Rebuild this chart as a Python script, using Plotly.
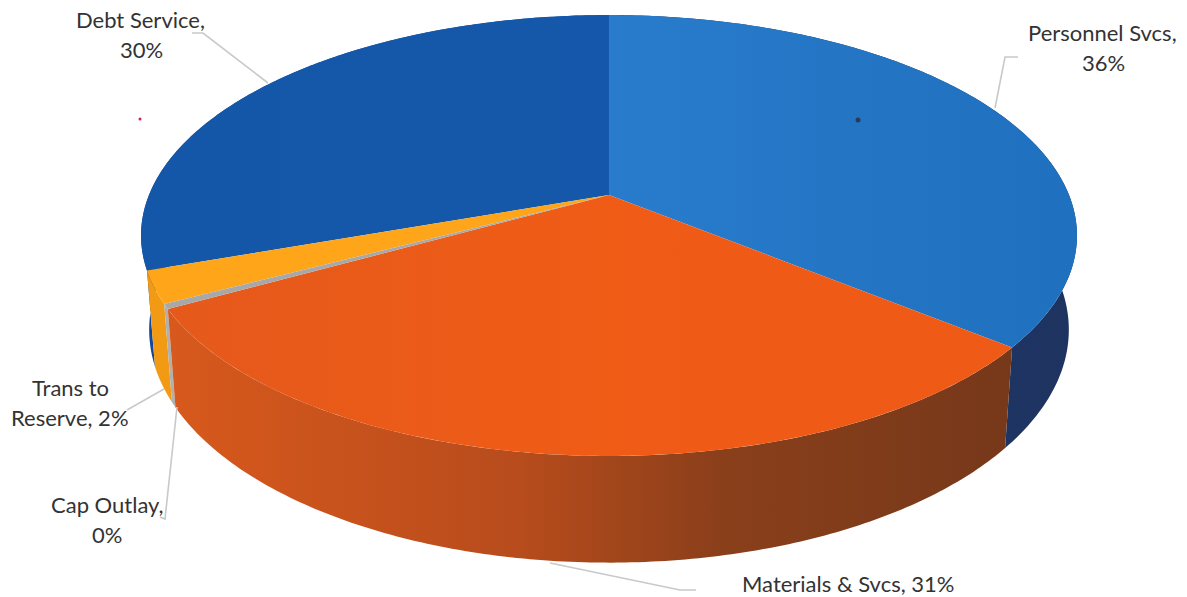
import numpy as np
import plotly.graph_objects as go

# ---- data ----
categories = ["Personnel Svcs", "Materials & Svcs", "Cap Outlay", "Trans to Reserve", "Debt Service"]
values = [35.9, 31.0, 0.35, 2.35, 30.4]

# ---- styles ----
top_colors = [
    [[0, "#3388DA"], [1, "#1F70BE"]],
    [[0, "#E4591C"], [0.5, "#F05C16"], [1, "#EE5A17"]],
    [[0, "#A8A8A8"], [1, "#A8A8A8"]],
    [[0, "#FFA51A"], [1, "#FFA51A"]],
    [[0, "#1457A8"], [1, "#1758AC"]],
]
side_colors = [
    [[0, "#1B3F78"], [1, "#1E3360"]],
    [[0, "#DA5A1C"], [0.4, "#B84C1C"], [0.62, "#8A3F1A"], [1, "#72371A"]],
    [[0, "#B0B0B0"], [1, "#B0B0B0"]],
    [[0, "#F29A14"], [1, "#F29A14"]],
    [[0, "#12489A"], [1, "#12489A"]],
]
top_disc = dict(cx=609, cy=195, A=460, B=213, k=0.1837)
bot_disc = dict(cx=609, cy=287, A=452, B=225, k=0.1837)

# one label line per entry: text, x, y
label_lines = [
    ("Personnel Svcs,", 1102, 32), ("36%", 1103, 62),
    ("Debt Service,", 140, 19), ("30%", 141, 49),
    ("Trans to", 70, 387), ("Reserve, 2%", 70, 417),
    ("Cap Outlay,", 107, 504), ("0%", 107, 534),
    ("Materials & Svcs, 31%", 848, 583),
]
leader_x = [[995, 1005, 1018], [268, 203, 192], [164, 127], [177, 165, 160], [550, 680, 696]]
leader_y = [[108, 57, 57], [83, 33, 33], [389, 410], [407, 519, 517], [563, 590, 590]]
speck_x = [140, 858]
speck_y = [119, 120]
speck_color = ["#D81B60", "#2B3A55"]


def project(theta, d):
    X, Y = np.sin(theta), np.cos(theta)
    w = 1 + d["k"] * Y
    return d["cx"] + d["A"] * X / w, d["cy"] - d["B"] * Y / w


edges = 2 * np.pi * np.concatenate([[0], np.cumsum(values)]) / sum(values)
fig = go.Figure()


def grad(cs, x0=141, x1=1077):
    return dict(type="horizontal", colorscale=cs, start=x0, stop=x1)


def polygon(x, y, cs, name):
    x = list(x) + [x[0]]
    y = list(y) + [y[0]]
    fig.add_trace(go.Scatter(x=x, y=y, mode="none", fill="toself", fillgradient=grad(cs),
                             name=name, hoverinfo="name", showlegend=False))


# side walls, back to front
for i in [4, 0, 3, 2, 1]:
    t = np.linspace(edges[i], edges[i + 1], 160)
    xt, yt = project(t, top_disc)
    xb, yb = project(t[::-1], bot_disc)
    polygon(np.r_[xt, xb], np.r_[yt, yb], side_colors[i], categories[i])

# top faces
for i in [4, 0, 3, 1, 2]:
    t = np.linspace(edges[i], edges[i + 1], 200)
    xt, yt = project(t, top_disc)
    polygon(np.r_[top_disc["cx"], xt], np.r_[top_disc["cy"], yt], top_colors[i], categories[i])

# leader lines
for lx, ly in zip(leader_x, leader_y):
    fig.add_trace(go.Scatter(x=lx, y=ly, mode="lines", line=dict(color="#C9C9C9", width=1.6),
                             hoverinfo="skip", showlegend=False))

# specks
fig.add_trace(go.Scatter(x=speck_x, y=speck_y, mode="markers", hoverinfo="skip", showlegend=False,
                         marker=dict(size=[3, 5], color=speck_color, opacity=1, line=dict(width=0))))

for text, x, y in label_lines:
    fig.add_annotation(x=x, y=y, text=text, showarrow=False, xanchor="center", yanchor="middle",
                       font=dict(family="Lato, Carlito, sans-serif", size=22, color="#333333"))

fig.update_layout(
    width=1187, height=597, margin=dict(l=0, r=0, t=0, b=0),
    paper_bgcolor="white", plot_bgcolor="white", showlegend=False,
    xaxis=dict(range=[0, 1187], visible=False, fixedrange=True),
    yaxis=dict(range=[597, 0], visible=False, fixedrange=True),
)
fig.write_html("out.html", config=dict(displayModeBar=False),
               post_script="document.body.style.margin='0';document.body.style.overflow='hidden';")
